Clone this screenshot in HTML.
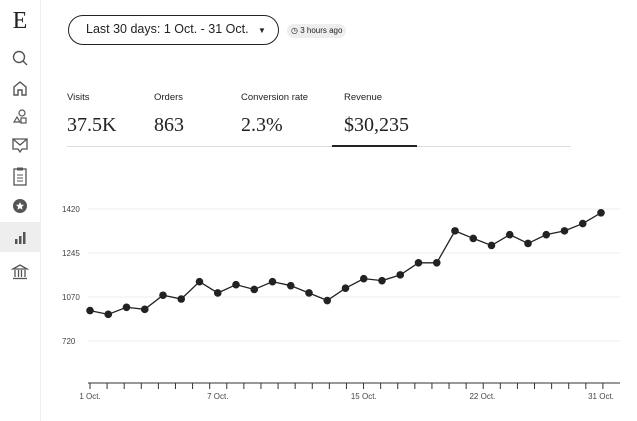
<!DOCTYPE html>
<html><head><meta charset="utf-8"><style>
body{margin:0;width:637px;height:421px;background:#fff;font-family:"Liberation Sans",sans-serif;position:relative;overflow:hidden;color:#222}
.sb{position:absolute;left:0;top:0;width:40px;height:421px;border-right:1px solid #eee}
.ic{position:absolute;left:8px;width:24px;height:20px;text-align:center;color:#555}
.pill{position:absolute;left:68px;top:15px;width:211px;height:30px;border:1.5px solid #222;border-radius:16px;box-sizing:border-box;font-size:12.5px;line-height:27px;padding-left:17px}
.ago{position:absolute;left:287px;top:24px;height:14px;padding:0 4px;background:#eee;border-radius:7px;font-size:8px;line-height:14px}
.lab{position:absolute;top:92px;font-size:9.5px}
.val{position:absolute;top:114px;font-family:"Liberation Serif",serif;font-size:20px}
</style></head><body>
<div class="sb">
<div class="ic" style="top:8px;font-family:'Liberation Serif',serif;font-size:24px;color:#222">E</div>
<svg class="ic" style="top:48px" viewBox="0 0 24 20"><circle cx="11" cy="9" r="5.5" fill="none" stroke="#555" stroke-width="1.4"/><line x1="15" y1="13" x2="19" y2="17" stroke="#555" stroke-width="1.4"/></svg>
<svg class="ic" style="top:78px" viewBox="0 0 24 20"><path d="M6 17V9l6-5 6 5v8h-4v-5h-4v5z" fill="none" stroke="#555" stroke-width="1.4"/></svg>
<svg class="ic" style="top:107px" viewBox="0 0 24 20"><circle cx="14" cy="6" r="3" fill="none" stroke="#555" stroke-width="1.2"/><path d="M6 15l3-5 3 5z" fill="none" stroke="#555" stroke-width="1.2"/><rect x="13" y="11" width="5" height="5" fill="none" stroke="#555" stroke-width="1.2"/></svg>
<svg class="ic" style="top:135px" viewBox="0 0 24 20"><path d="M5 4h14v10h-5l-2 3-2-3H5z M5 4l7 6 7-6" fill="none" stroke="#555" stroke-width="1.3"/></svg>
<svg class="ic" style="top:166px" viewBox="0 0 24 20"><rect x="6" y="3" width="12" height="16" fill="none" stroke="#555" stroke-width="1.3"/><rect x="9" y="1.5" width="6" height="3" fill="#555"/><line x1="9" y1="9" x2="15" y2="9" stroke="#555"/><line x1="9" y1="12" x2="15" y2="12" stroke="#555"/><line x1="9" y1="15" x2="15" y2="15" stroke="#555"/></svg>
<svg class="ic" style="top:196px" viewBox="0 0 24 20"><circle cx="12" cy="10" r="7" fill="#555"/><path d="M12 6l1.2 2.6 2.8.3-2.1 1.9.6 2.8L12 12.2l-2.5 1.4.6-2.8L8 8.9l2.8-.3z" fill="#fff"/></svg>
<div style="position:absolute;left:0;top:222px;width:40px;height:30px;background:#eee"></div>
<svg class="ic" style="top:227px" viewBox="0 0 24 20"><rect x="7" y="12" width="2.5" height="5" fill="#555"/><rect x="11" y="9" width="2.5" height="8" fill="#555"/><rect x="15" y="5" width="2.5" height="12" fill="#555"/></svg>
<svg class="ic" style="top:318px;top:262px" viewBox="0 0 24 20"><path d="M5 7l7-4 7 4z" fill="none" stroke="#555" stroke-width="1.3"/><g stroke="#555" stroke-width="1.3"><line x1="7" y1="8" x2="7" y2="15"/><line x1="10.5" y1="8" x2="10.5" y2="15"/><line x1="13.5" y1="8" x2="13.5" y2="15"/><line x1="17" y1="8" x2="17" y2="15"/><line x1="5" y1="16.5" x2="19" y2="16.5"/></g></svg>
</div>
<div class="pill">Last 30 days: 1 Oct. - 31 Oct. <span style="font-size:8px;margin-left:6px">▼</span></div>
<div class="ago">◷ 3 hours ago</div>
<div class="lab" style="left:67px">Visits</div>
<div class="val" style="left:67px">37.5K</div>
<div class="lab" style="left:154px">Orders</div>
<div class="val" style="left:154px">863</div>
<div class="lab" style="left:241px">Conversion rate</div>
<div class="val" style="left:241px">2.3%</div>
<div class="lab" style="left:344px">Revenue</div>
<div class="val" style="left:344px">$30,235</div>
<div style="position:absolute;left:67px;top:146px;width:504px;height:1px;background:#ddd"></div>
<div style="position:absolute;left:332px;top:145px;width:85px;height:2px;background:#222"></div>
<svg id="chart" width="637" height="421" style="position:absolute;left:0;top:0"></svg>
<script>
const values=[1016,1001,1029,1021,1077,1062,1131,1086,1119,1100,1131,1115,1086,1056,1105,1143,1135,1158,1206,1206,1333,1303,1275,1318,1283,1318,1333,1362,1405];
const yTickValues=[1420,1245,1070,895];
const yTickLabels=["1420","1245","1070","720"];
const xTickPos=[0,7,15,21.5,28];
const xTickLabels=["1 Oct.","7 Oct.","15 Oct.","22 Oct.","31 Oct."];
const NS="http://www.w3.org/2000/svg",svg=document.getElementById('chart');
const x=i=>90+i*(511/(values.length-1));
const y=v=>209+(1420-v)*44/175;
function mk(t,a,p){const e=document.createElementNS(NS,t);for(const k in a)e.setAttribute(k,a[k]);(p||svg).appendChild(e);return e;}
yTickValues.forEach((v,i)=>{
 const g=mk('line',{x1:88,x2:620,y1:y(v),y2:y(v),stroke:'#eee','stroke-width':1});
 
 
 const t=mk('text',{x:62,y:y(v)+3,'font-size':8,fill:'#444','font-family':'Liberation Sans, sans-serif'});
 t.textContent=yTickLabels[i];
 
 
});
const ax=mk('line',{x1:88,x2:620,y1:383,y2:383,stroke:'#333','stroke-width':1});


for(let d=0;d<=30;d++){const xx=90+d*(530/31);const tk=mk('line',{x1:xx,x2:xx,y1:383,y2:389,stroke:'#333'});
 
 }
xTickPos.forEach((p,i)=>{const t=mk('text',{x:x(p),y:399,'font-size':8,fill:'#444','text-anchor':'middle','font-family':'Liberation Sans, sans-serif'});
 t.textContent=xTickLabels[i];
 
 });
const line=mk('polyline',{points:values.map((v,i)=>x(i)+','+y(v)).join(' '),fill:'none',stroke:'#222','stroke-width':1.3});


values.forEach((v,i)=>{const c=mk('circle',{cx:x(i),cy:y(v),r:3.8,fill:'#222'});
 
 });
</script>
</body></html>
